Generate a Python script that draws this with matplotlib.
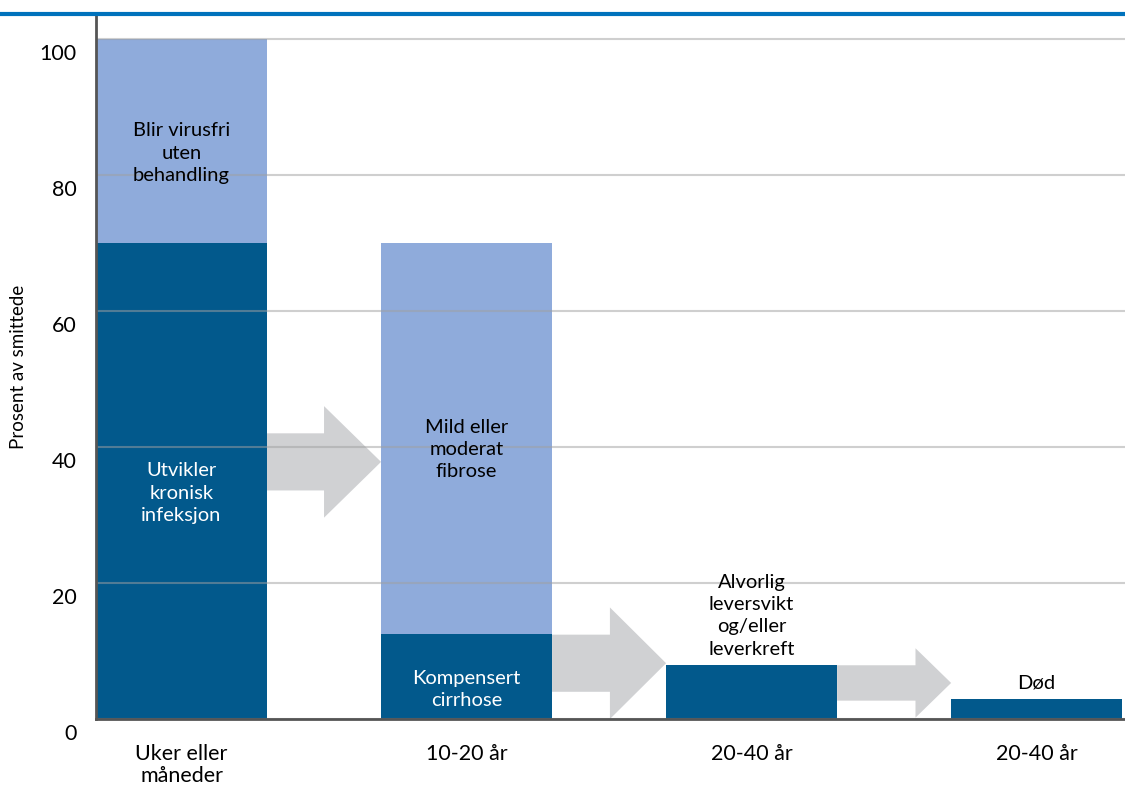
import matplotlib.pyplot as plt
from matplotlib.lines import Line2D
from matplotlib.patches import FancyArrow
import matplotlib.transforms as mtransforms
import numpy as np

plt.rcParams['font.family'] = ['Lato', 'DejaVu Sans']

# data
kategorier = ["Uker eller\nmåneder", "10-20 år", "20-40 år", "20-40 år"]
nedre = [70, 12.5, 8, 3]        # mørk blå del
ovre = [30, 57.5, 0, 0]         # lys blå del (stablet)
tekst_nedre = ["Utvikler\nkronisk\ninfeksjon", "Kompensert\ncirrhose", "", ""]
tekst_ovre = ["Blir virusfri\nuten\nbehandling", "Mild eller\nmoderat\nfibrose", "", ""]
tekst_over = ["", "", "Alvorlig\nleversvikt\nog/eller\nleverkreft", "Død"]
ytick_verdier = [0, 20, 40, 60, 80, 100]

# piler mellom søylene: senter-y, kroppshøyde, hodehøyde, hodelengde
pil_y = [37.8, 8.2, 5.3]
pil_bredde = [8.4, 8.4, 5.2]
pil_hode = [16.4, 16.4, 10.2]
pil_hodelengde = [0.2, 0.197, 0.125]

mork = '#02598c'
lys = '#8fabdb'
gra = '#d0d1d3'

fig = plt.figure(figsize=(11.25, 7.88), dpi=100)
ax = fig.add_axes([96/1125, 1-719/788, 1-96/1125, (719-15)/788])

x = np.arange(len(kategorier))
bredde = 0.6
ax.bar(x, nedre, bredde, color=mork, zorder=2)
ax.bar(x, ovre, bredde, bottom=nedre, color=lys, zorder=2)

for i in range(len(pil_y)):
    start = x[i] + bredde/2
    slutt = x[i+1] - bredde/2
    ax.add_patch(FancyArrow(start, pil_y[i], slutt - start, 0, width=pil_bredde[i],
                            head_width=pil_hode[i], head_length=pil_hodelengde[i],
                            length_includes_head=True, color=gra, lw=0, zorder=1))

fs = 14.5
ls = 1.38
for i in range(len(x)):
    if tekst_nedre[i]:
        yy = 33.2 if i == 0 else 4.3
        ax.text(x[i], yy, tekst_nedre[i], ha='center', va='center', color='white',
                fontsize=fs, zorder=4, linespacing=ls)
    if tekst_ovre[i]:
        yy = 83.2 if i == 0 else 39.6
        ax.text(x[i], yy, tekst_ovre[i], ha='center', va='center', color='black',
                fontsize=fs, zorder=4, linespacing=ls)
    if tekst_over[i]:
        ax.text(x[i], nedre[i] + ovre[i] + 1.0, tekst_over[i], ha='center', va='bottom',
                color='black', fontsize=fs, zorder=4, linespacing=ls)

ax.set_xlim(-0.3, 3.31)
ax.set_ylim(0, 103.5)
ax.set_yticks(ytick_verdier)
ax.set_xticks(x)
ax.set_xticklabels(kategorier, fontsize=15.5, linespacing=1.1)
ax.tick_params(axis='both', length=0, labelsize=15.5)
ax.tick_params(axis='x', pad=18)
ax.tick_params(axis='y', pad=14)
ax.set_ylabel("Prosent av smittede", fontsize=13.5, labelpad=9)

# y-etikettene står litt under gridlinjene i originalen
forskyv = mtransforms.ScaledTranslation(0, -13/100, fig.dpi_scale_trans)
for lab in ax.get_yticklabels():
    lab.set_transform(lab.get_transform() + forskyv)

ax.grid(axis='y', color='#a0a0a0', alpha=0.5, lw=1.5, zorder=3)
ax.set_axisbelow(False)
for s in ['top', 'right']:
    ax.spines[s].set_visible(False)
for s in ['left', 'bottom']:
    ax.spines[s].set_color('#555555')
    ax.spines[s].set_linewidth(2)
    ax.spines[s].set_zorder(5)

fig.add_artist(Line2D([0, 1], [1-14/788, 1-14/788], color='#0072bc', lw=3))

fig.savefig('out.png', dpi=100)
